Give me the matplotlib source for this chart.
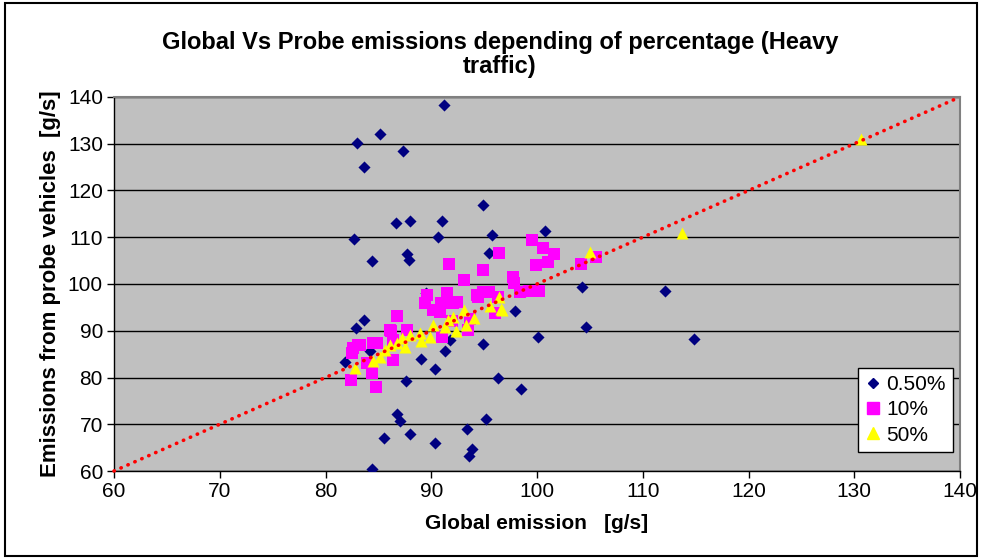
import matplotlib
matplotlib.use("Agg")
import matplotlib.pyplot as plt
from matplotlib.patches import Rectangle
from matplotlib.lines import Line2D

plt.rcParams['font.family'] = ['Liberation Sans', 'DejaVu Sans']

# 0.50% probe vehicles
s1 = [(91.2,138.3),(85.2,132.1),(83.0,130.1),(87.3,128.4),(83.6,125.0),(94.9,116.9),(86.7,113.0),
      (88.0,113.5),(91.0,113.5),(82.7,109.6),(90.6,110.1),(95.7,110.5),(100.8,111.3),(84.4,105.0),
      (87.7,106.4),(87.9,105.1),(95.5,106.7),(104.3,99.4),(112.1,98.5),(89.5,98.0),(83.6,92.2),
      (82.9,90.6),(97.9,94.2),(104.6,90.8),(114.8,88.3),(100.1,88.7),(94.9,87.2),(91.8,88.0),
      (91.3,85.6),(84.2,85.6),(81.8,83.4),(89.0,84.0),(90.4,81.8),(87.6,79.3),(96.3,79.8),
      (98.5,77.5),(86.8,72.2),(87.0,70.7),(95.2,71.1),(93.4,69.0),(85.5,67.0),(88.0,67.9),
      (90.4,66.0),(93.9,64.7),(93.6,63.2),(84.4,60.4)]
x1 = [p[0] for p in s1]
y1 = [p[1] for p in s1]

# 10% probe vehicles
s2 = [(99.5,109.5),(100.6,107.7),(101.6,106.4),(101.0,104.7),(99.9,104.1),(96.4,106.6),(91.7,104.3),
      (94.9,103.0),(97.7,101.5),(97.8,100.2),(93.1,100.9),(98.4,98.3),(99.2,98.5),(100.2,98.4),
      (104.2,104.3),(105.6,105.8),(89.6,97.6),(89.4,95.9),(91.5,98.1),(90.9,96.0),(92.1,96.0),
      (92.4,96.1),(94.3,97.6),(94.9,98.3),(95.5,98.3),(94.4,97.2),(96.3,97.2),(90.2,94.5),
      (90.8,94.0),(86.8,93.2),(93.7,92.5),(96.0,93.7),(93.5,90.2),(91.0,88.7),(86.1,90.2),
      (87.7,90.2),(86.2,90.0),(86.4,88.0),(84.9,87.4),(84.5,87.4),(83.1,86.9),(82.6,86.3),
      (83.3,87.0),(82.5,85.2),(86.4,83.8),(83.9,83.1),(84.4,81.0),(82.4,79.5),(84.8,78.0),(92.0,92.0)]
x2 = [p[0] for p in s2]
y2 = [p[1] for p in s2]

# 50% probe vehicles
s3 = [(82.8,82.0),(84.5,83.5),(85.2,84.4),(85.6,85.9),(86.1,87.0),(86.8,87.4),(87.2,88.5),
      (88.0,89.1),(88.9,89.5),(89.9,88.7),(90.2,91.2),(91.3,90.8),(91.6,92.3),(92.1,92.9),
      (92.3,89.9),(93.1,94.4),(93.3,91.2),(94.0,92.7),(95.6,95.3),(96.4,97.2),(96.6,94.7),
      (96.7,94.4),(105.0,106.8),(113.7,110.9),(130.6,131.0),(87.5,86.5),(89.0,87.8)]
x3 = [p[0] for p in s3]
y3 = [p[1] for p in s3]

ref_x = [60, 140]
ref_y = [60, 140]
xticks = [60, 70, 80, 90, 100, 110, 120, 130, 140]
yticks = [60, 70, 80, 90, 100, 110, 120, 130, 140]

fig = plt.figure(figsize=(9.82, 5.58), dpi=100)
fig.patch.set_facecolor('white')
fig.add_artist(Rectangle((0.005, 0.004), 0.99, 0.99, transform=fig.transFigure,
                         fill=False, edgecolor='black', linewidth=1.5))

ax = fig.add_axes([0.1161, 0.1559, 0.8615, 0.6703])
ax.set_facecolor('#C0C0C0')
ax.set_xlim(60, 140)
ax.set_ylim(60, 140)
ax.set_xticks(xticks)
ax.set_yticks(yticks)
ax.yaxis.grid(True, color='black', linewidth=1.0)
ax.set_axisbelow(True)
for sp in ['top', 'right']:
    ax.spines[sp].set_color('#808080')
    ax.spines[sp].set_linewidth(1.5)
for sp in ['left', 'bottom']:
    ax.spines[sp].set_color('black')
    ax.spines[sp].set_linewidth(1.0)
ax.tick_params(axis='both', direction='out', length=5, width=1, labelsize=15, pad=3)

ax.scatter(x1, y1, marker='D', s=38, color='#000080', linewidths=0, zorder=3)
ax.scatter(x2, y2, marker='s', s=70, color='#FF00FF', linewidths=0, zorder=4)
ax.scatter(x3, y3, marker='^', s=75, color='#FFFF00', linewidths=0, zorder=5)
ax.plot(ref_x, ref_y, color='#FF0000', linewidth=2.6, linestyle=(0, (0.1, 2.0)),
        dash_capstyle='round', zorder=6, clip_on=False)

ax.set_xlabel('Global emission   [g/s]', fontsize=15, fontweight='bold', labelpad=9)
ax.set_ylabel('Emissions from probe vehicles  [g/s]', fontsize=16, fontweight='bold', labelpad=5)
fig.text(0.509, 0.903, 'Global Vs Probe emissions depending of percentage (Heavy\ntraffic)',
         ha='center', va='center', fontsize=17, fontweight='bold', linespacing=1.05)

handles = [Line2D([], [], marker='D', color='#000080', linestyle='none', markersize=5.5),
           Line2D([], [], marker='s', color='#FF00FF', linestyle='none', markersize=8.5),
           Line2D([], [], marker='^', color='#FFFF00', linestyle='none', markersize=9)]
leg = ax.legend(handles, ['0.50%', '10%', '50%'], loc='lower right',
                bbox_to_anchor=(0.9917, 0.0508), fontsize=15, frameon=True, fancybox=False,
                edgecolor='black', facecolor='white', framealpha=1, handlelength=0.7,
                handletextpad=0.3, borderpad=0.35, labelspacing=0.3, borderaxespad=0.0)
leg.get_frame().set_linewidth(1.0)

fig.savefig('out.png', dpi=100)
